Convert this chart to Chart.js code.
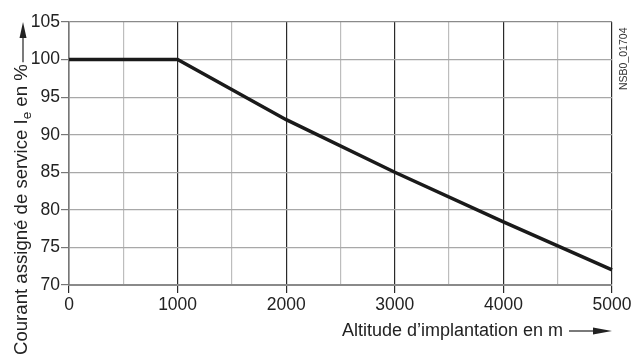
<!DOCTYPE html>
<html>
<head>
<meta charset="utf-8">
<script src="https://cdn.jsdelivr.net/npm/chart.js@4/dist/chart.umd.min.js"></script>
<style>
  html, body { margin: 0; padding: 0; background: #fff; }
  #wrap { width: 635px; height: 358px; position: relative; }
</style>
</head>
<body>
<div id="wrap"><canvas id="c" width="635" height="358"></canvas></div>
<script>
// Altitude derating of the rated operational current
const altitudes = [0, 1000, 2000, 3000, 4000, 5000];
const currentPct = [100, 100, 92, 85, 78.4, 72];
const yTicks = [70, 75, 80, 85, 90, 95, 100, 105];

const FONT = '"Liberation Sans", Arial, Helvetica, sans-serif';
const TEXT = '#222';

// Axis titles with arrows, and the drawing reference number
const titles = {
  id: 'titles',
  afterDraw(chart) {
    const ctx = chart.ctx;
    const a = chart.chartArea;
    ctx.save();
    ctx.fillStyle = TEXT;
    ctx.strokeStyle = TEXT;

    // x title, right-aligned, followed by an arrow pointing right
    ctx.font = '18px ' + FONT;
    ctx.textAlign = 'right';
    ctx.textBaseline = 'middle';
    const xy = 331;
    ctx.fillText('Altitude d\u2019implantation en m', a.right - 49, xy);
    ctx.lineWidth = 1.2;
    ctx.beginPath();
    ctx.moveTo(a.right - 43, xy);
    ctx.lineTo(a.right - 16, xy);
    ctx.stroke();
    ctx.beginPath();
    ctx.moveTo(a.right, xy);
    ctx.lineTo(a.right - 19, xy - 3.5);
    ctx.lineTo(a.right - 19, xy + 3.5);
    ctx.closePath();
    ctx.fill();

    // y title, rotated, with subscript and an arrow pointing up
    ctx.translate(27, 355);
    ctx.rotate(-Math.PI / 2);
    ctx.textAlign = 'left';
    ctx.textBaseline = 'alphabetic';
    let x = 0;
    const parts = [
      ['Courant assign\u00e9 de service I', 18.6, 0],
      ['e', 13.5, 4],
      [' en %', 18.6, 0]
    ];
    for (const [t, sz, dy] of parts) {
      ctx.font = sz + 'px ' + FONT;
      ctx.fillText(t, x, dy);
      x += ctx.measureText(t).width;
    }
    // arrow along the y title
    ctx.lineWidth = 1.2;
    ctx.beginPath();
    ctx.moveTo(x + 2, -4);
    ctx.lineTo(320, -4);
    ctx.stroke();
    ctx.beginPath();
    ctx.moveTo(333, -4);
    ctx.lineTo(317, -7.5);
    ctx.lineTo(317, -0.5);
    ctx.closePath();
    ctx.fill();
    ctx.setTransform(1, 0, 0, 1, 0, 0);

    // drawing number on the right edge
    ctx.translate(627, 90);
    ctx.rotate(-Math.PI / 2);
    ctx.font = '10.5px ' + FONT;
    ctx.textAlign = 'left';
    ctx.textBaseline = 'alphabetic';
    ctx.fillStyle = '#333';
    ctx.fillText('NSB0_01704', 0, 0);
    ctx.restore();
  }
};

new Chart(document.getElementById('c'), {
  type: 'line',
  data: {
    datasets: [{
      data: altitudes.map((a, i) => ({ x: a, y: currentPct[i] })),
      borderColor: '#1a1a1a',
      borderWidth: 3.5,
      pointRadius: 0,
      fill: false,
      tension: 0,
      clip: false
    }]
  },
  options: {
    responsive: false,
    animation: false,
    devicePixelRatio: 1,
    layout: { padding: { left: 0, right: 23, top: 22, bottom: 0 } },
    plugins: { legend: { display: false }, tooltip: { enabled: false } },
    scales: {
      x: {
        type: 'linear',
        min: 0,
        max: 5000,
        afterFit(s) { s.height = 73; },
        afterBuildTicks(s) {
          const t = [];
          for (let v = 0; v <= 5000; v += 500) t.push({ value: v });
          s.ticks = t;
        },
        border: { display: true, color: '#8a8a8a', width: 2 },
        grid: {
          color: c => (c.tick && c.tick.value % 1000 === 0) ? '#2a2a2a' : '#bdbdbd',
          tickColor: c => (c.tick && c.tick.value % 1000 === 0) ? '#2a2a2a' : 'rgba(0,0,0,0)',
          lineWidth: 1.2,
          tickLength: 8,
          drawTicks: true
        },
        ticks: {
          autoSkip: false,
          maxRotation: 0,
          padding: 2,
          color: TEXT,
          font: { family: FONT, size: 17.5 },
          callback: v => (v % 1000 === 0 ? String(v) : '')
        }
      },
      y: {
        type: 'linear',
        min: 70,
        max: 105,
        afterFit(s) { s.width = 69; },
        afterBuildTicks(s) { s.ticks = yTicks.map(v => ({ value: v })); },
        border: { display: true, color: '#777', width: 1.5 },
        grid: {
          color: c => (c.tick && c.tick.value === 105) ? '#8a8a8a' : '#a8a8a8',
          tickColor: '#777',
          lineWidth: 1.2,
          tickLength: 8,
          drawTicks: true
        },
        ticks: {
          padding: 1,
          color: TEXT,
          font: { family: FONT, size: 17.5 }
        }
      }
    }
  },
  plugins: [titles]
});
</script>
</body>
</html>
